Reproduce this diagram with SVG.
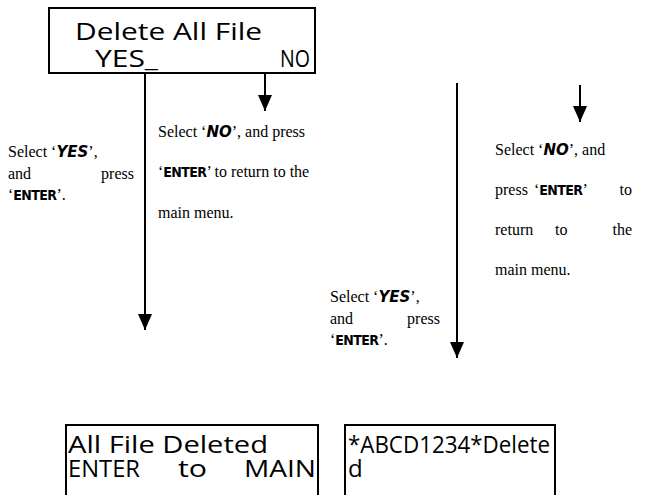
<svg xmlns="http://www.w3.org/2000/svg" width="667" height="495" viewBox="0 0 667 495">
<style>
.box{fill:#fff;stroke:#000;stroke-width:2}
.lcd{font-family:"Open Sans","DejaVu Sans",sans-serif;font-size:24px;fill:#000}
.t{font-family:"Liberation Serif","Times New Roman",serif;font-size:16px;fill:#000}
.k{font-family:"Liberation Sans Narrow","DejaVu Sans Condensed","DejaVu Sans",sans-serif;font-stretch:condensed;font-weight:bold;font-size:14px;letter-spacing:-0.6px}
.y{font-family:"DejaVu Sans",sans-serif;font-weight:bold;font-style:italic;font-size:15px}
.ln{stroke:#000;stroke-width:2;fill:none}
</style>
<defs>
<marker id="ah" viewBox="0 0 16 14" refX="16" refY="7" markerWidth="16" markerHeight="14" markerUnits="userSpaceOnUse" orient="auto">
<path d="M0,0 L16,7 L0,14 Z" fill="#000"/>
</marker>
</defs>
<g id="screen-delete-all">
<rect class="box" x="49" y="8" width="266" height="65"/>
<text class="lcd" x="75" y="40" textLength="187" lengthAdjust="spacingAndGlyphs">Delete All File</text>
<text class="lcd" x="95" y="67" textLength="63" lengthAdjust="spacingAndGlyphs">YES_</text>
<text class="lcd" x="280" y="67" textLength="30" lengthAdjust="spacingAndGlyphs">NO</text>
</g>
<g id="screen-all-deleted">
<rect class="box" x="66" y="425" width="252" height="80"/>
<text class="lcd" x="68" y="453" textLength="200" lengthAdjust="spacingAndGlyphs">All File Deleted</text>
<text class="lcd" x="68" y="477" textLength="72" lengthAdjust="spacingAndGlyphs">ENTER</text>
<text class="lcd" x="178" y="477" textLength="29" lengthAdjust="spacingAndGlyphs">to</text>
<text class="lcd" x="244" y="477" textLength="72" lengthAdjust="spacingAndGlyphs">MAIN</text>
</g>
<g id="screen-file-deleted">
<rect class="box" x="345" y="425" width="210" height="80"/>
<text class="lcd" x="348" y="453" textLength="202" lengthAdjust="spacingAndGlyphs">*ABCD1234*Delete</text>
<text class="lcd" x="348" y="477">d</text>
</g>
<g id="connectors">
<line class="ln" x1="145" y1="73" x2="145" y2="330" marker-end="url(#ah)"/>
<line class="ln" x1="265" y1="73" x2="265" y2="111" marker-end="url(#ah)"/>
<line class="ln" x1="457" y1="83" x2="457" y2="358" marker-end="url(#ah)"/>
<line class="ln" x1="580" y1="85" x2="580" y2="122" marker-end="url(#ah)"/>
</g>
<g id="label-yes-left">
<text class="t" x="8" y="157">Select ‘<tspan class="y">YES</tspan>’,</text>
<text class="t" x="8" y="179">and</text>
<text class="t" x="134" y="179" text-anchor="end">press</text>
<text class="t" x="8" y="200">‘<tspan class="k">ENTER</tspan>’.</text>
</g>
<g id="label-no-middle">
<text class="t" x="158" y="137">Select ‘<tspan class="y">NO</tspan>’, and press</text>
<text class="t" x="158" y="177">‘<tspan class="k">ENTER</tspan>’ to return to the</text>
<text class="t" x="158" y="218">main menu.</text>
</g>
<g id="label-no-right">
<text class="t" x="495" y="155">Select ‘<tspan class="y">NO</tspan>’, and</text>
<text class="t" x="495" y="195">press</text>
<text class="t" x="534" y="195">‘<tspan class="k">ENTER</tspan>’</text>
<text class="t" x="632" y="195" text-anchor="end">to</text>
<text class="t" x="495" y="235">return</text>
<text class="t" x="555" y="235">to</text>
<text class="t" x="632" y="235" text-anchor="end">the</text>
<text class="t" x="495" y="275">main menu.</text>
</g>
<g id="label-yes-right">
<text class="t" x="330" y="302">Select ‘<tspan class="y">YES</tspan>’,</text>
<text class="t" x="330" y="324">and</text>
<text class="t" x="440" y="324" text-anchor="end">press</text>
<text class="t" x="330" y="345">‘<tspan class="k">ENTER</tspan>’.</text>
</g>
</svg>
